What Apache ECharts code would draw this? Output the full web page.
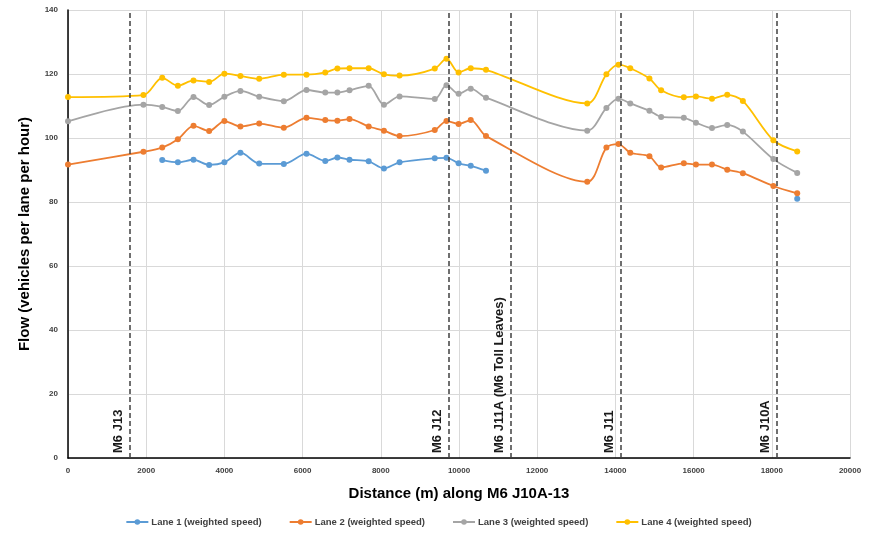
<!DOCTYPE html>
<html>
<head>
<meta charset="utf-8">
<script src="https://cdn.jsdelivr.net/npm/echarts@6/dist/echarts.min.js"></script>
<style>html,body{margin:0;padding:0;background:#fff;}#chart{width:877px;height:536px;}</style>
</head>
<body>
<div id="chart"></div>
<script>
// Distances (m) along M6 J10A-13
const distances = [0, 1930, 2410, 2810, 3210, 3610, 4000, 4410, 4890, 5520, 6100, 6580, 6890, 7200, 7690, 8080, 8480, 9380, 9680, 9990, 10300, 10690, 13280, 13770, 14080, 14380, 14870, 15170, 15750, 16060, 16470, 16860, 17260, 18040, 18650];

const lane1 = [null, null, 93.1, 92.4, 93.2, 91.6, 92.4, 95.4, 92.0, 91.9, 95.1, 92.8, 93.9, 93.2, 92.7, 90.5, 92.4, 93.7, 93.8, 92.1, 91.3, 89.8, null, null, null, null, null, null, null, null, null, null, null, null, 81.0];
const lane2 = [91.7, 95.7, 97.0, 99.6, 103.8, 102.2, 105.3, 103.6, 104.5, 103.2, 106.3, 105.6, 105.4, 105.9, 103.6, 102.3, 100.6, 102.5, 105.3, 104.4, 105.6, 100.6, 86.3, 97.0, 98.1, 95.4, 94.3, 90.8, 92.1, 91.7, 91.7, 90.1, 89.0, 85.0, 82.7];
const lane3 = [105.2, 110.4, 109.7, 108.4, 112.8, 110.3, 112.9, 114.7, 112.9, 111.5, 115.0, 114.2, 114.2, 114.9, 116.3, 110.4, 113.0, 112.2, 116.5, 113.8, 115.4, 112.6, 102.3, 109.4, 112.3, 110.8, 108.5, 106.6, 106.3, 104.8, 103.1, 104.1, 102.0, 93.4, 89.1];
const lane4 = [112.8, 113.4, 118.8, 116.3, 118.0, 117.5, 120.1, 119.4, 118.5, 119.8, 119.8, 120.5, 121.7, 121.8, 121.8, 119.9, 119.5, 121.7, 124.8, 120.5, 121.8, 121.3, 110.8, 119.9, 122.9, 121.8, 118.6, 114.9, 112.7, 113.0, 112.3, 113.5, 111.6, 99.3, 95.8];

const seriesNames = ['Lane 1 (weighted speed)', 'Lane 2 (weighted speed)', 'Lane 3 (weighted speed)', 'Lane 4 (weighted speed)'];
const seriesColors = ['#5B9BD5', '#ED7D31', '#A5A5A5', '#FFC000'];

const junctionNames = ['M6 J13', 'M6 J12', 'M6 J11A (M6 Toll Leaves)', 'M6 J11', 'M6 J10A'];
const junctionDistances = [1590, 9730, 11330, 14135, 18125];

const yTicks = [0, 20, 40, 60, 80, 100, 120, 140];
const xTicks = [0, 2000, 4000, 6000, 8000, 10000, 12000, 14000, 16000, 18000, 20000];

const font = 'Liberation Sans, Arial, sans-serif';
const laneValues = [lane1, lane2, lane3, lane4];

const series = laneValues.map((vals, i) => ({
  name: seriesNames[i],
  type: 'line',
  smooth: 0.3,
  connectNulls: false,
  symbol: 'circle',
  symbolSize: 6,
  itemStyle: { color: seriesColors[i] },
  lineStyle: { color: seriesColors[i], width: 1.8 },
  data: distances.map((d, k) => [d, vals[k] === null ? '-' : vals[k]]),
  z: 3
}));

series.push({
  name: 'junctions',
  type: 'line',
  data: [],
  silent: true,
  markLine: {
    silent: true,
    symbol: 'none',
    animation: false,
    lineStyle: { color: '#404040', type: [5, 3], width: 1.5 },
    label: {
      show: true,
      position: 'insideStartTop',
      formatter: p => p.name,
      fontFamily: font,
      fontWeight: 'bold',
      fontSize: 13,
      color: '#1a1a1a'
    },
    data: junctionNames.map((n, i) => ({ name: n, xAxis: junctionDistances[i] }))
  }
});

const chart = echarts.init(document.getElementById('chart'));
chart.setOption({
  animation: false,
  backgroundColor: '#fff',
  grid: { left: 68, right: 27, top: 10, bottom: 78 },
  legend: {
    data: seriesNames,
    bottom: 4,
    left: 'center',
    itemWidth: 22,
    itemHeight: 7,
    itemGap: 27,
    textStyle: { fontFamily: font, fontSize: 9.5, fontWeight: 'bold', color: '#404040', padding: [0, 0, 0, -2] }
  },
  xAxis: {
    type: 'value',
    min: xTicks[0],
    max: xTicks[xTicks.length - 1],
    interval: 2000,
    name: 'Distance (m) along M6 J10A-13',
    nameLocation: 'middle',
    nameGap: 28,
    nameTextStyle: { fontFamily: font, fontWeight: 'bold', fontSize: 15, color: '#000' },
    axisLine: { show: true, lineStyle: { color: '#000', width: 1.5 } },
    axisTick: { show: false },
    axisLabel: { fontFamily: font, fontSize: 8, fontWeight: 'bold', color: '#404040', margin: 9, formatter: v => String(v) },
    splitLine: { show: true, lineStyle: { color: '#D9D9D9', width: 1 } }
  },
  yAxis: {
    type: 'value',
    min: yTicks[0],
    max: yTicks[yTicks.length - 1],
    interval: 20,
    name: 'Flow (vehicles per lane per hour)',
    nameLocation: 'middle',
    nameGap: 36,
    nameTextStyle: { fontFamily: font, fontWeight: 'bold', fontSize: 15, color: '#000' },
    axisLine: { show: true, lineStyle: { color: '#000', width: 1.5 } },
    axisTick: { show: false },
    axisLabel: { fontFamily: font, fontSize: 8, fontWeight: 'bold', color: '#404040', margin: 10, formatter: v => String(v) },
    splitLine: { show: true, lineStyle: { color: '#D9D9D9', width: 1 } }
  },
  series: series
});
</script>
</body>
</html>
